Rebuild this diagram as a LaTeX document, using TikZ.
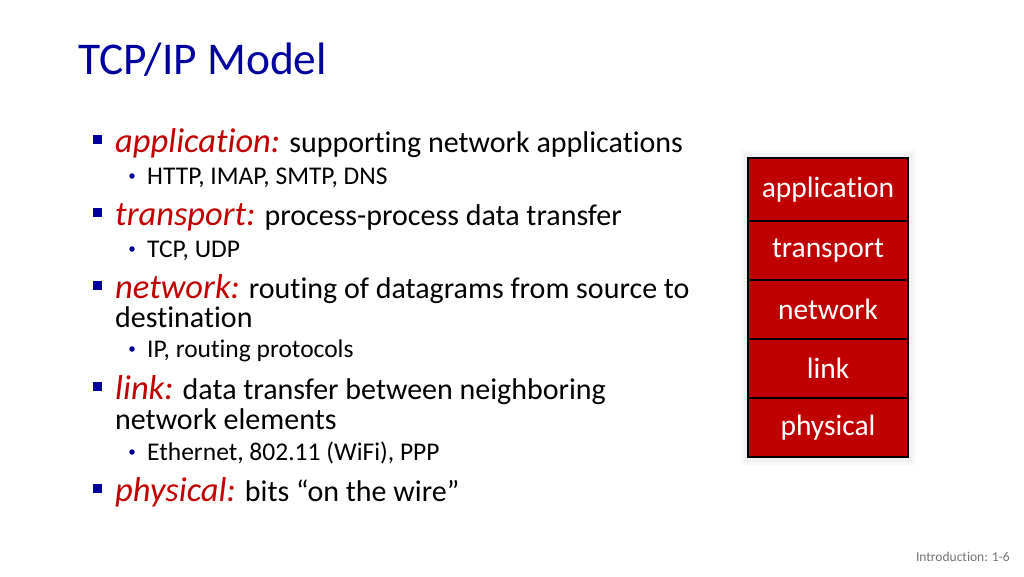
\documentclass[tikz,border=0pt]{standalone}
\usepackage{fontspec}
\setmainfont{Carlito}[Ligatures={NoCommon}]
\usetikzlibrary{positioning}
\definecolor{titleblue}{RGB}{0,0,160}
\definecolor{keyred}{RGB}{192,0,0}
\definecolor{bulletblue}{RGB}{0,0,150}
\newcommand{\kw}[1]{{\fontsize{34.5}{38}\selectfont\itshape\color{keyred}#1}}

\begin{document}
\begin{tikzpicture}[x=1pt, y=-1pt]
				\tikzstyle{title} = [anchor=base west, inner sep=0, text=titleblue, font=\fontsize{45.4}{48}\selectfont]
				\tikzstyle{item} = [anchor=base west, inner sep=0, font=\fontsize{30}{34}\selectfont]
				\tikzstyle{subitem} = [anchor=base west, inner sep=0, font=\fontsize{25.5}{28}\selectfont]
				\tikzstyle{bulletsq} = [fill=bulletblue, minimum size=9pt, inner sep=0]
				\tikzstyle{subdot} = [fill=bulletblue, circle, minimum size=5.5pt, inner sep=0]
				\tikzstyle{layer} = [draw=black, line width=2pt, outer sep=0, fill=keyred, text=white, minimum width=160pt, minimum height=59pt, font=\fontsize{29.5}{34}\selectfont]
				
				\useasboundingbox (0, 0) rectangle (1024, 576);
				\fill[white] (0, 0) rectangle (1024, 576);
				
				\node[title] 	at (78, 74) 		(title) 	{TCP/IP Model};
				
				% bullets
				\node[bulletsq] at (97.5, 139.5)	(b1) {};
				\node[bulletsq] at (97.5, 212.5)	(b2) {};
				\node[bulletsq] at (97.5, 285.5)	(b3) {};
				\node[bulletsq] at (97.5, 386.5)	(b4) {};
				\node[bulletsq] at (97.5, 488.5)	(b5) {};
				\node[subdot] 	at (132, 176)		(d1) {};
				\node[subdot] 	at (132, 249)		(d2) {};
				\node[subdot] 	at (132, 349)		(d3) {};
				\node[subdot] 	at (132, 452)		(d4) {};
				
				\node[item] 	at (115, 152)		(app) 	{\kw{application:} supporting network applications};
				\node[subitem] 	at (147, 184)		(appex) {HTTP, IMAP, SMTP, DNS};
				\node[item] 	at (115, 225)		(trans) {\kw{transport:} process-process data transfer};
				\node[subitem] 	at (147, 257)		(transex) {TCP, UDP};
				\node[item] 	at (115, 298)		(net) 	{\kw{network:} routing of datagrams from source to};
				\node[item] 	at (115, 327)		(net2) 	{destination};
				\node[subitem] 	at (147, 357)		(netex) {IP, routing protocols};
				\node[item] 	at (115, 399)		(lnk) 	{\kw{link:} data transfer between neighboring};
				\node[item] 	at (115, 429)		(lnk2) 	{network elements};
				\node[subitem] 	at (147, 460)		(lnkex) {Ethernet, 802.11 (WiFi), PPP};
				\node[item] 	at (115, 501)		(phy) 	{\kw{physical:} bits “on the wire”};
				
				% layer stack
				\fill[black, opacity=0.025] (741, 150) rectangle (916, 465);
				\fill[black, opacity=0.03] (744, 153) rectangle (913, 462);
				\node[layer, minimum height=63pt] at (828, 189.5) (lapp) {application};
				\node[layer, below=0pt of lapp] 	(ltrans) 	{transport};
				\node[layer, below=0pt of ltrans] 	(lnet) 		{network};
				\node[layer, below=0pt of lnet] 	(llink) 	{link};
				\node[layer, below=0pt of llink] 	(lphy) 		{physical};
				
				\node[anchor=base east, inner sep=0, text=black!55, font=\fontsize{13.5}{16}\selectfont] at (1010, 561) (foot) {Introduction: 1-6};
				\end{tikzpicture}
\end{document}
